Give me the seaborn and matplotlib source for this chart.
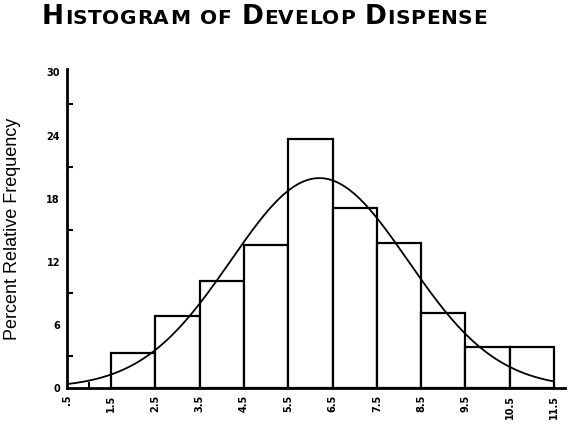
import numpy as np
import pandas as pd
import matplotlib
matplotlib.use("Agg")
import matplotlib.pyplot as plt
from matplotlib.ticker import FixedLocator
import seaborn as sns

# ---- data ----
bin_edges = [0.5, 1.5, 2.5, 3.5, 4.5, 5.5, 6.5, 7.5, 8.5, 9.5, 10.5, 11.5]
bin_mids = [1.0, 2.0, 3.0, 4.0, 5.0, 6.0, 7.0, 8.0, 9.0, 10.0, 11.0]
percents = [0.0, 3.34, 6.79, 10.18, 13.57, 23.66, 17.06, 13.76, 7.07, 3.86, 3.86]
x_tick_labels = [".5", "1.5", "2.5", "3.5", "4.5", "5.5", "6.5", "7.5", "8.5",
                 "9.5", "10.5", "11.5"]
y_ticks = [0, 6, 12, 18, 24, 30]
fit_mean = 6.2
fit_sd = 2.0
fit_scale = 100.0  # percent * bin width

sns.set_theme(style="white")
plt.rcParams["font.family"] = ["Liberation Sans", "DejaVu Sans"]
plt.rcParams["text.color"] = "black"
plt.rcParams["axes.labelcolor"] = "black"
plt.rcParams["xtick.color"] = "black"
plt.rcParams["ytick.color"] = "black"

fig = plt.figure(figsize=(5.72, 4.32), dpi=100)
ax = fig.add_axes([0.117, 0.1025, 0.988 - 0.117, 0.8396 - 0.1025])

df = pd.DataFrame({"x": bin_mids, "w": percents})
df = df[df["w"] > 0]
sns.histplot(data=df, x="x", weights="w", bins=bin_edges[1:], stat="count",
             color="white", edgecolor="black", linewidth=1.6, alpha=1.0, ax=ax)

xs = np.linspace(bin_edges[0], bin_edges[-1], 300)
ys = fit_scale / (fit_sd * np.sqrt(2 * np.pi)) * np.exp(-0.5 * ((xs - fit_mean) / fit_sd) ** 2)
sns.lineplot(x=xs, y=ys, color="black", linewidth=1.3, ax=ax)

ax.set_xlim(0.5, 11.75)
ax.set_ylim(0, 30.3)
ax.set_xticks(bin_edges)
ax.set_xticklabels(x_tick_labels, rotation=90, fontsize=7, fontweight="bold",
                   family="DejaVu Sans", color="black")
ax.xaxis.set_minor_locator(FixedLocator(bin_mids))
ax.set_yticks(y_ticks)
ax.set_yticklabels([str(v) for v in y_ticks], fontsize=7, fontweight="bold",
                   family="DejaVu Sans", color="black")
ax.yaxis.set_minor_locator(FixedLocator([3, 9, 15, 21, 27]))
ax.tick_params(axis="both", which="major", direction="out", length=3, width=1.5,
               color="black", pad=2)
ax.tick_params(axis="both", which="minor", direction="in", length=4, width=1.5,
               color="black", bottom=True, left=True)
ax.set_xlabel("")
ax.set_ylabel("Percent Relative Frequency", fontsize=13, color="black")
ax.yaxis.set_label_coords(-0.093, 0.5)
for s in ["top", "right"]:
    ax.spines[s].set_visible(False)
for s in ["left", "bottom"]:
    ax.spines[s].set_color("black")
    ax.spines[s].set_linewidth(2)
ax.grid(False)

# ---- small-caps title, placed letter by letter ----
pieces = [("H", 19), ("ISTOGRAM", 14.5), (" ", 14.5), ("OF", 14.5), (" ", 14.5),
          ("D", 19), ("EVELOP", 14.5), (" ", 14.5), ("D", 19), ("ISPENSE", 14.5)]
fig.canvas.draw()
renderer = fig.canvas.get_renderer()
chars = []
for s, sz in pieces:
    for ch in s:
        t = fig.text(0, 0, ch, fontsize=sz, fontweight="bold", ha="left",
                     va="baseline", color="black", family="DejaVu Sans")
        w = t.get_window_extent(renderer).width if ch != " " else sz * 0.6
        chars.append((t, w))
W = fig.bbox.width
H = fig.bbox.height
target_left, target_right = 42, 487
natural = sum(w for _, w in chars)
gap = (target_right - target_left - natural) / max(len(chars) - 1, 1)
base_y = H - 24
cur = target_left
for t, w in chars:
    t.set_position((cur / W, base_y / H))
    cur += w + gap

fig.savefig("out.png", dpi=100)
